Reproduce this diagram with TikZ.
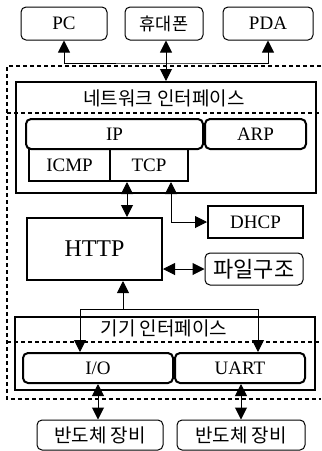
\documentclass[tikz,border=0pt]{standalone}
\usepackage{fontspec}
\setmainfont{Liberation Serif}
\newfontfamily\krfont{Noto Sans CJK KR}
\usetikzlibrary{arrows.meta,positioning}
\tikzset{%
	ext/.style    = {draw, rounded corners=5pt, line width=1pt, inner sep=0pt, minimum height=33pt, text centered},
	layer/.style  = {draw, rounded corners=5pt, line width=2pt, inner sep=0pt, minimum height=30pt, text centered},
	proto/.style  = {draw, rectangle, line width=2pt, inner sep=0pt, minimum height=32pt, text centered},
	frame/.style  = {draw, rectangle, line width=2pt, inner sep=0pt},
	region/.style = {dash pattern=on 4pt off 3pt, line width=1.1pt},
	arrow/.style  = {line width=1pt, <->, >={Triangle[length=12pt,width=12pt]}},
	latin/.style  = {font=\fontsize{19}{19}\selectfont},
	hangul/.style = {font=\krfont\fontsize{19}{19}\selectfont},
}

\begin{document}
\begin{tikzpicture}[x=1pt,y=-1pt]
	\useasboundingbox (0,0) rectangle (322,451);
	
	% outside devices
	\node[ext,latin,minimum width=86pt] (pc) at (64,23.5) {PC};
	\node[ext,hangul,minimum width=78pt,font=\krfont\fontsize{17.5}{17.5}\selectfont] (phone) at (164,23.5) {휴대폰};
	\node[ext,latin,minimum width=90pt] (pda) at (268,23.5) {PDA};
	
	% dashed regions
	\draw[region] (321,66) -- (7,66) -- (7,399) -- (321,399);
	\draw[region] (7,113) -- (321,113);
	\draw[region] (7,342) -- (321,342);
	
	% network interface
	\node[frame,minimum width=300pt,minimum height=111pt] (netif) at (166,137.5) {};
	\node[hangul] (netlbl) at (164,98) {네트워크 인터페이스};
	\node[layer,latin,minimum width=177pt] (ip) at (114.5,134) {IP};
	\node[layer,latin,minimum width=101pt] (arp) at (255.5,134) {ARP};
	\node[proto,latin,minimum width=81pt] (icmp) at (69.5,165) {ICMP};
	\node[proto,latin,minimum width=78pt] (tcp) at (149,165) {TCP};
	
	% application
	\node[proto,minimum width=135pt,minimum height=62pt,font=\fontsize{24}{24}\selectfont] (http) at (94.5,249) {HTTP};
	\node[proto,latin,minimum width=95pt] (dhcp) at (255.5,222) {DHCP};
	\node[ext,minimum width=98pt,minimum height=32pt,font=\krfont\fontsize{22}{22}\selectfont] (files) at (254,269) {파일구조};
	
	% device interface
	\node[frame,minimum width=300pt,minimum height=73pt] (devif) at (165,353.5) {};
	\node[hangul] (devlbl) at (164,328) {기기 인터페이스};
	\node[layer,latin,minimum width=150pt] (io) at (98,368) {I/O};
	\node[layer,latin,minimum width=130pt] (uart) at (240,368) {UART};
	
	% semiconductor equipment
	\node[ext,hangul,minimum width=126pt,minimum height=30pt] (semiA) at (100,435) {반도체 장비};
	\node[ext,hangul,minimum width=128pt,minimum height=30pt] (semiB) at (241,435) {반도체 장비};
	
	% connectors
	\coordinate (hub) at (166,63);
	\coordinate (tcpx) at (127,200);
	\coordinate (dhcpx) at (171,200);
	\coordinate (tapL) at (80,309);
	\coordinate (tapM) at (123,309);
	\coordinate (tapR) at (258,309);
	
	\draw[arrow] (pc.south) |- (hub) -| (pda.south);
	\draw[arrow] (phone.south -| hub) -- (netif.north -| hub);
	\draw[arrow] (tcp.south -| tcpx) -- (http.north -| tcpx);
	\draw[arrow] (tcp.south -| dhcpx) |- (dhcp.west);
	\draw[arrow] (http.east |- files.west) -- (files.west);
	\draw[arrow,<-] (http.south -| tapM) -- (tapM);
	\draw[arrow] (io.north -| tapL) -- (tapL) -- (tapR) -- (uart.north -| tapR);
	\draw[arrow] (io.south) -- (semiA.north -| io.south);
	\draw[arrow] (uart.south -| semiB.north) -- (semiB.north);
	
\end{tikzpicture}
\end{document}
